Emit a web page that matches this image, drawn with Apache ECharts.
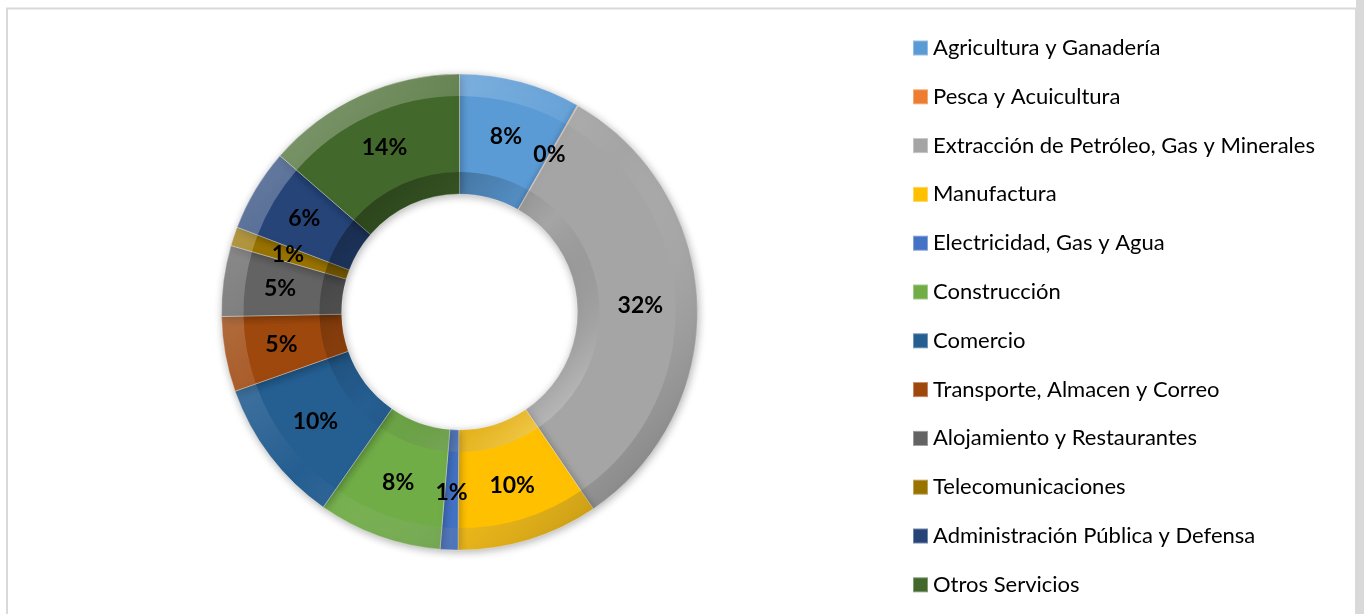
<!DOCTYPE html>
<html>
<head>
<meta charset="utf-8">
<script src="https://cdn.jsdelivr.net/npm/echarts@6/dist/echarts.min.js"></script>
<style>
html,body{margin:0;padding:0;background:#fff;}
#chart{width:1364px;height:614px;}
</style>
</head>
<body>
<div id="chart"></div>
<script>
const categories = [
  'Agricultura y Ganadería',
  'Pesca y Acuicultura',
  'Extracción de Petróleo, Gas y Minerales',
  'Manufactura',
  'Electricidad, Gas y Agua',
  'Construcción',
  'Comercio',
  'Transporte, Almacen y Correo',
  'Alojamiento y Restaurantes',
  'Telecomunicaciones',
  'Administración Pública y Defensa',
  'Otros Servicios'
];
const shares = [8.25, 0.05, 32.2, 9.6, 1.2, 8.4, 9.9, 5.1, 4.8, 1.3, 5.6, 13.6];
const colors = ['#5B9BD5','#ED7D31','#A5A5A5','#FFC000','#4472C4','#70AD47',
                '#255E91','#9E480E','#636363','#997300','#264478','#43682B'];

const chart = echarts.init(document.getElementById('chart'), null, {renderer:'canvas'});
const CX = 459.5, CY = 312, R0 = 118, R1 = 238;
const FONT = 'Lato';

const mainData = categories.map((n,i)=>({name:n, value:shares[i], itemStyle:{color:colors[i]}}));
const G = echarts.graphic.LinearGradient;
const outerBevel = new G(CX-R1, CY-R1, CX+R1, CY+R1, [
  {offset:0, color:'rgba(255,255,255,0.4)'},
  {offset:0.5, color:'rgba(255,255,255,0.0)'},
  {offset:1, color:'rgba(0,0,0,0.4)'}], true);
const innerBevel = new G(CX-R0, CY-R0, CX+R0, CY+R0, [
  {offset:0, color:'rgba(0,0,0,0.4)'},
  {offset:0.5, color:'rgba(0,0,0,0.0)'},
  {offset:1, color:'rgba(255,255,255,0.4)'}], true);
const overlay = (fill)=>categories.map((n,i)=>({name:n, value:shares[i], itemStyle:{color:fill}}));

chart.setOption({
  animation:false,
  backgroundColor:'#ffffff',
  graphic:[
    {type:'rect', silent:true, shape:{x:1356, y:0, width:8, height:614}, style:{fill:'#d9d9d9'}},
    {type:'rect', silent:true, shape:{x:7, y:8.5, width:1349, height:620}, style:{fill:'none', stroke:'#d9d9d9', lineWidth:2}}
  ],
  legend:{
    orient:'vertical',
    left:912, top:37, padding:0, height:600,
    itemWidth:15, itemHeight:15, itemGap:26.8,
    icon:'rect',
    selectedMode:false,
    data: categories.map((n,i)=>({name:n, itemStyle:{color:colors[i]}})),
    textStyle:{fontFamily:FONT, fontSize:22, color:'#000'}
  },
  series:[
    {
      type:'pie', name:'main',
      center:[CX, CY], radius:[R0, R1],
      startAngle:90, clockwise:true,
      avoidLabelOverlap:false,
      itemStyle:{borderColor:'rgba(255,255,255,0.35)', borderWidth:1,
                 shadowBlur:8, shadowColor:'rgba(0,0,0,0.3)', shadowOffsetX:1, shadowOffsetY:2},
      label:{show:true, position:'inside', fontFamily:FONT, fontWeight:'bold', fontSize:23, color:'#000',
             formatter:(p)=>Math.round(p.percent)+'%'},
      labelLine:{show:false},
      emphasis:{disabled:true},
      data: mainData
    },
    {
      type:'pie', name:'bevelOuter', silent:true, z:3,
      center:[CX, CY], radius:[R1-22, R1],
      startAngle:90, clockwise:true,
      label:{show:false}, labelLine:{show:false}, emphasis:{disabled:true},
      data: overlay(outerBevel)
    },
    {
      type:'pie', name:'bevelInner', silent:true, z:3,
      center:[CX, CY], radius:[R0, R0+22],
      startAngle:90, clockwise:true,
      label:{show:false}, labelLine:{show:false}, emphasis:{disabled:true},
      data: overlay(innerBevel)
    }
  ]
});
</script>
</body>
</html>
